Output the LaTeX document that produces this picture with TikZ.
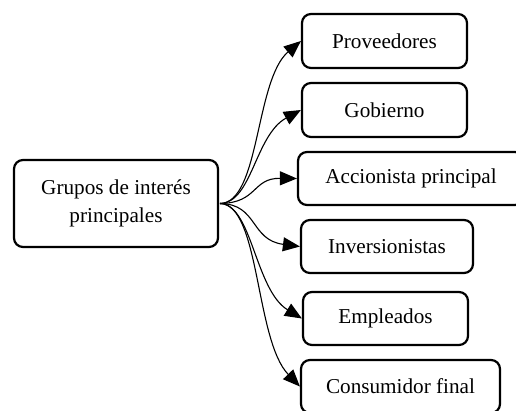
\documentclass[tikz,border=0pt]{standalone}
\usepackage{fontspec}
\setmainfont{Liberation Serif}
\usetikzlibrary{arrows.meta}
\begin{document}
\begin{tikzpicture}[x=1pt,y=-1pt,
  box/.style={draw,line width=2.2pt,rounded corners=9pt,inner sep=0pt,align=center,font=\fontsize{21.2}{28}\selectfont},
  conn/.style={line width=1.1pt,-{Triangle[length=17pt,width=14pt]}}]
\useasboundingbox (0,0) rectangle (516,410);
\node[box,minimum width=204pt,minimum height=87pt] (main) at (116,203.5) {Grupos de interés\\principales};
\node[box,minimum width=165pt,minimum height=54pt] (prov) at (384.5,41) {Proveedores};
\node[box,minimum width=165pt,minimum height=54pt] (gob) at (384.5,110) {Gobierno};
\node[box,minimum width=226pt,minimum height=53pt] (acc) at (411,178.5) {Accionista principal};
\node[box,minimum width=172pt,minimum height=53pt] (inv) at (387,246.5) {Inversionistas};
\node[box,minimum width=165pt,minimum height=53pt] (emp) at (385.5,318.5) {Empleados};
\node[box,minimum width=199pt,minimum height=53pt] (cons) at (400.5,386.5) {Consumidor final};
\coordinate (s) at (220,203.5);
\draw[conn] (s) .. controls (260,203) and (255,80) .. (prov.west);
\draw[conn] (s) .. controls (252,203) and (255,135) .. (gob.west);
\draw[conn] (s) .. controls (258,203) and (252,178) .. (acc.west);
\draw[conn] (s) .. controls (258,204) and (250,240) .. (inv.west);
\draw[conn] (s) .. controls (252,204) and (255,290) .. (emp.west);
\draw[conn] (s) .. controls (260,204) and (255,340) .. (cons.west);
\end{tikzpicture}
\end{document}
